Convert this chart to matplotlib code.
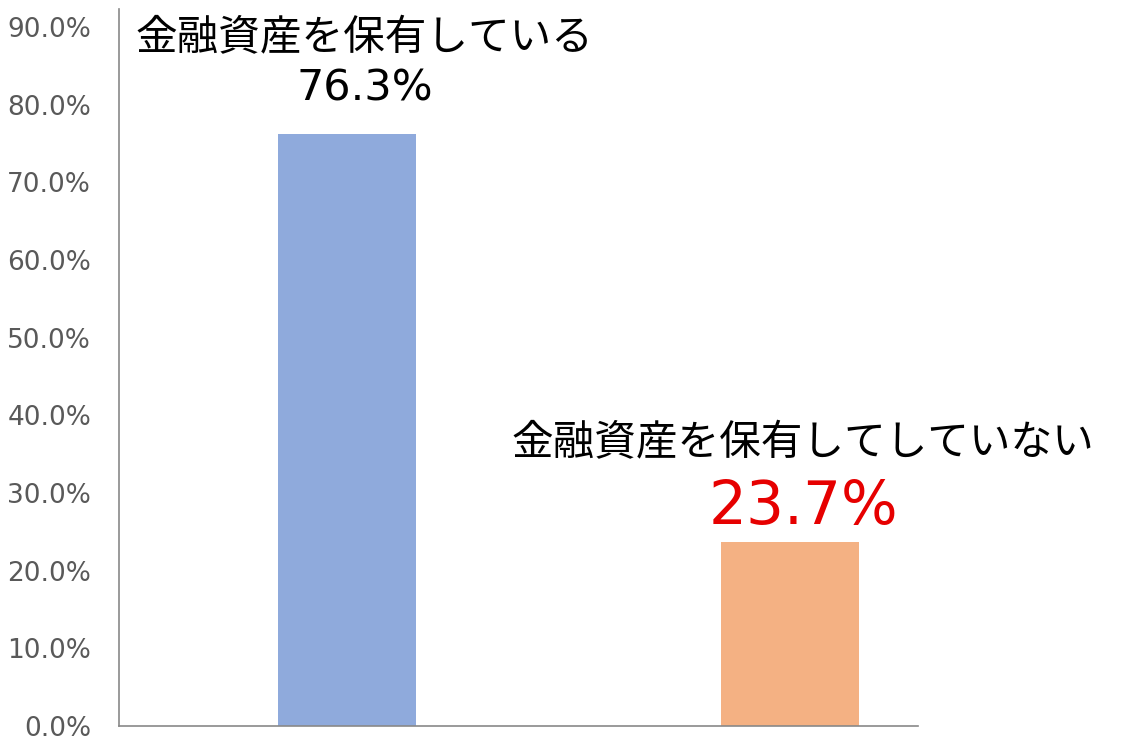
import matplotlib
matplotlib.use('Agg')
import matplotlib.pyplot as plt
from matplotlib.ticker import PercentFormatter

plt.rcParams['font.family'] = ['Noto Sans CJK JP', 'DejaVu Sans']

categories = ['金融資産を保有している', '金融資産を保有してしていない']
values = [76.3, 23.7]
colors = ['#8FAADC', '#F4B183']
yticks = [0, 10, 20, 30, 40, 50, 60, 70, 80, 90]

fig = plt.figure(figsize=(11.31, 7.56), dpi=100)
ax = fig.add_axes([0.1052, 0.0397, 0.7065, 0.948])

x = list(range(len(values)))
ax.bar(x, values, width=0.312, color=colors)

ax.set_xlim(-0.515, 1.289)
ax.set_ylim(0, 92.3)
ax.set_yticks(yticks)
ax.yaxis.set_major_formatter(PercentFormatter(decimals=1))
ax.tick_params(axis='y', length=0, pad=20, labelsize=19, labelcolor='#595959')
for lbl in ax.get_yticklabels():
    lbl.set_fontfamily('DejaVu Sans')
ax.set_xticks([])

for side in ['top', 'right']:
    ax.spines[side].set_visible(False)
for side in ['left', 'bottom']:
    ax.spines[side].set_color('#898989')
    ax.spines[side].set_linewidth(1.2)

# ラベル
ax.text(x[0] + 0.04, values[0] + 12.2, categories[0], ha='center', va='center', fontsize=30)
ax.text(x[0] + 0.04, values[0] + 5.8, f'{values[0]:.1f}%', ha='center', va='center',
        fontsize=31, family='DejaVu Sans')
ax.text(x[1] + 0.03, values[1] + 12.7, categories[1], ha='center', va='center', fontsize=30)
ax.text(x[1] + 0.03, values[1] + 4.5, f'{values[1]:.1f}%', ha='center', va='center',
        fontsize=43, color='#E60000', family='DejaVu Sans')

fig.savefig('out.png', dpi=100)
